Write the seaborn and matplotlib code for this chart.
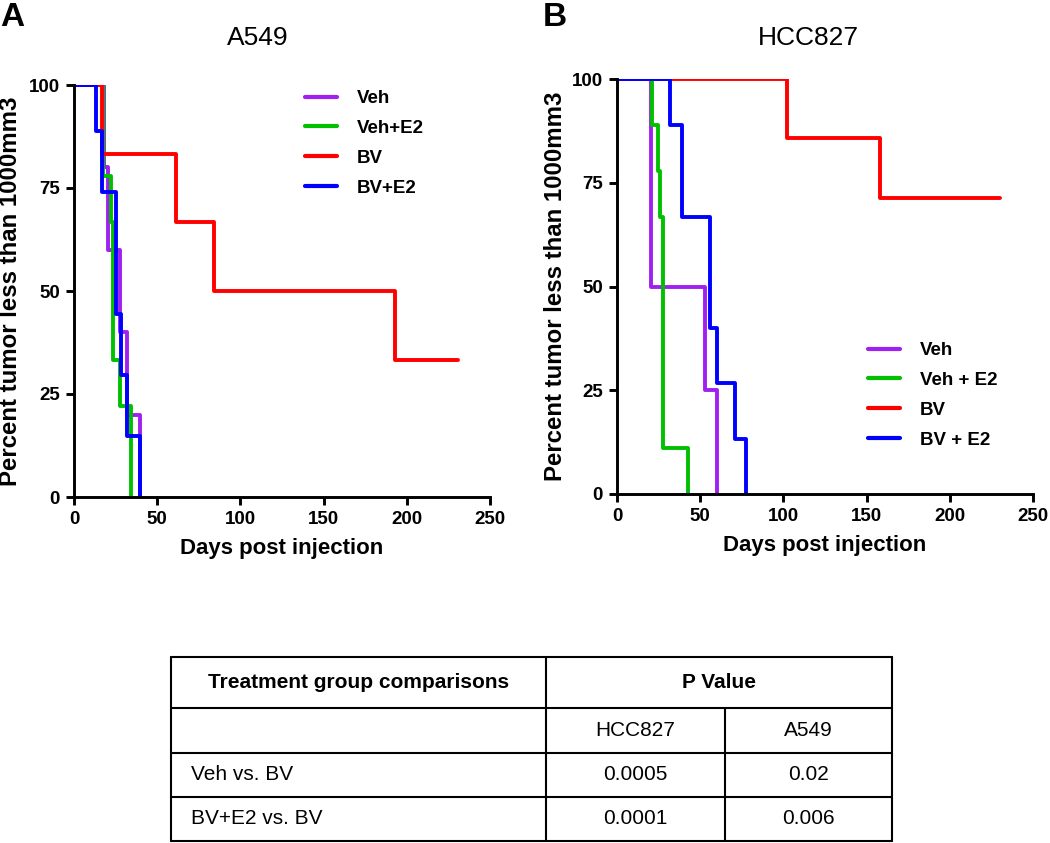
import numpy as np
import pandas as pd
import matplotlib
matplotlib.use("Agg")
import matplotlib.pyplot as plt
import seaborn as sns
from matplotlib.lines import Line2D

# ---------------- data ----------------
groups_a = ["Veh", "Veh+E2", "BV", "BV+E2"]
groups_b = ["Veh", "Veh + E2", "BV", "BV + E2"]

# A549 (panel A)
a549_veh_days = [0, 18, 20.7, 27.5, 32, 39.5]
a549_veh_pct = [100, 80, 60, 40, 20, 0]
a549_vehe2_days = [0, 17.5, 22, 23.5, 27.5, 34.5]
a549_vehe2_pct = [100, 77.8, 66.7, 33.3, 22.2, 0]
a549_bv_days = [0, 17, 61, 84, 193, 231]
a549_bv_pct = [100, 83.3, 66.7, 50, 33.3, 33.3]
a549_bve2_days = [0, 13.5, 16.7, 25, 28, 32, 39.5]
a549_bve2_pct = [100, 88.9, 74.1, 44.4, 29.6, 14.8, 0]

# HCC827 (panel B)
hcc_veh_days = [0, 20.6, 53, 60]
hcc_veh_pct = [100, 50, 25, 0]
hcc_vehe2_days = [0, 21.2, 24.4, 25.8, 27.8, 42.8]
hcc_vehe2_pct = [100, 88.9, 77.8, 66.7, 11.1, 0]
hcc_bv_days = [0, 102, 158, 230]
hcc_bv_pct = [100, 85.7, 71.4, 71.4]
hcc_bve2_days = [0, 32, 39, 56, 60, 71, 77.4]
hcc_bve2_pct = [100, 88.9, 66.7, 40, 26.7, 13.3, 0]

x_ticks = [0, 50, 100, 150, 200, 250]
y_ticks = [0, 25, 50, 75, 100]

table_header = ["Treatment group comparisons", "P Value"]
table_sub = ["", "HCC827", "A549"]
table_rows = [["Veh vs. BV", "0.0005", "0.02"],
              ["BV+E2 vs. BV", "0.0001", "0.006"]]

colors = ["#A020F0", "#00C000", "#FF0000", "#0000FF"]

# --------------- build frames ---------------
def frame(labels, days_list, pct_list):
    parts = []
    for lab, d, p in zip(labels, days_list, pct_list):
        parts.append(pd.DataFrame({"days": d, "pct": p, "group": lab}))
    return pd.concat(parts, ignore_index=True)

df_a = frame(groups_a,
             [a549_veh_days, a549_vehe2_days, a549_bv_days, a549_bve2_days],
             [a549_veh_pct, a549_vehe2_pct, a549_bv_pct, a549_bve2_pct])
df_b = frame(groups_b,
             [hcc_veh_days, hcc_vehe2_days, hcc_bv_days, hcc_bve2_days],
             [hcc_veh_pct, hcc_vehe2_pct, hcc_bv_pct, hcc_bve2_pct])

sns.set_theme(style="white")
plt.rcParams["font.family"] = ["Liberation Sans", "DejaVu Sans"]
plt.rcParams["text.color"] = "black"
plt.rcParams["axes.labelcolor"] = "black"
plt.rcParams["xtick.color"] = "black"
plt.rcParams["ytick.color"] = "black"

W, H = 1050, 843
fig = plt.figure(figsize=(W / 100, H / 100), dpi=100)

def px_axes(left, top, right, bottom):
    return fig.add_axes([left / W, 1 - bottom / H, (right - left) / W, (bottom - top) / H])

ax_a = px_axes(74, 85, 490, 497)
ax_b = px_axes(617, 79, 1033, 494)

def style_axes(ax, df, labels, leg_anchor, ylab_x):
    sns.lineplot(data=df, x="days", y="pct", hue="group", hue_order=labels,
                 palette=colors, drawstyle="steps-post", sort=False,
                 estimator=None, units="group", linewidth=2.8, ax=ax, legend=True)
    ax.set_xlim(0, 250)
    ax.set_ylim(0, 100)
    ax.set_xticks(x_ticks)
    ax.set_yticks(y_ticks)
    for s in ["top", "right"]:
        ax.spines[s].set_visible(False)
    for s in ["left", "bottom"]:
        ax.spines[s].set_linewidth(2.1)
        ax.spines[s].set_color("black")
    ax.tick_params(axis="both", which="both", direction="out", length=6, width=2.1,
                   color="black", labelcolor="black", labelsize=13.5, pad=4,
                   left=True, bottom=True)
    for lab in ax.get_xticklabels() + ax.get_yticklabels():
        lab.set_fontweight("bold")
    ax.set_xlabel("Days post injection", fontsize=16, fontweight="bold", labelpad=7,
                  color="black")
    ax.set_ylabel("Percent tumor less than 1000mm3", fontsize=17.3, fontweight="bold",
                  color="black")
    ax.yaxis.label.set_va("center")
    ax.yaxis.set_label_coords(ylab_x, 0.5)
    ax.grid(False)
    ax.legend(loc="upper left", bbox_to_anchor=leg_anchor, frameon=False,
              prop={"weight": "bold", "size": 13.5}, handlelength=1.7,
              handletextpad=1.05, labelspacing=0.68, borderpad=0, borderaxespad=0,
              labelcolor="black")
    for line in ax.get_legend().get_lines():
        line.set_linewidth(3)

style_axes(ax_a, df_a, groups_a, ((305 - 74) / 416, (497 - 90) / 412), (11 - 74) / 416)
style_axes(ax_b, df_b, groups_b, ((868 - 617) / 416, (494 - 342) / 415), (555 - 617) / 416)

# titles and panel letters
fig.text(258 / W, 1 - 38 / H, "A549", ha="center", va="center", fontsize=19, color="black")
fig.text(808 / W, 1 - 38 / H, "HCC827", ha="center", va="center", fontsize=19, color="black")
fig.text(0 / W, 1 - 17 / H, "A", ha="left", va="center", fontsize=24, fontweight="bold",
         color="black")
fig.text(543 / W, 1 - 17 / H, "B", ha="left", va="center", fontsize=24, fontweight="bold",
         color="black")

# ---------------- table ----------------
tl, tr, c1, c2 = 171, 892, 546, 725
rows_y = [657, 708, 753, 797, 841]
lw = 1.5

def hline(y, x0, x1):
    fig.add_artist(Line2D([x0 / W, x1 / W], [1 - y / H, 1 - y / H], color="black", lw=lw))

def vline(x, y0, y1):
    fig.add_artist(Line2D([x / W, x / W], [1 - y0 / H, 1 - y1 / H], color="black", lw=lw))

for y in rows_y:
    hline(y, tl, tr)
vline(tl, rows_y[0], rows_y[-1])
vline(tr, rows_y[0], rows_y[-1])
vline(c1, rows_y[0], rows_y[-1])
vline(c2, rows_y[1], rows_y[-1])

def cy(i):
    return 1 - ((rows_y[i] + rows_y[i + 1]) / 2) / H

tfs = 15
fig.text((tl + c1) / 2 / W, cy(0), table_header[0], ha="center", va="center",
         fontsize=tfs, fontweight="bold", color="black")
fig.text((c1 + tr) / 2 / W, cy(0), table_header[1], ha="center", va="center",
         fontsize=tfs, fontweight="bold", color="black")
fig.text((c1 + c2) / 2 / W, cy(1), table_sub[1], ha="center", va="center", fontsize=tfs,
         color="black")
fig.text((c2 + tr) / 2 / W, cy(1), table_sub[2], ha="center", va="center", fontsize=tfs,
         color="black")
for i, row in enumerate(table_rows):
    fig.text(191 / W, cy(i + 2), row[0], ha="left", va="center", fontsize=tfs, color="black")
    fig.text((c1 + c2) / 2 / W, cy(i + 2), row[1], ha="center", va="center", fontsize=tfs,
             color="black")
    fig.text((c2 + tr) / 2 / W, cy(i + 2), row[2], ha="center", va="center", fontsize=tfs,
             color="black")

fig.savefig("out.png", dpi=100, facecolor="white")
